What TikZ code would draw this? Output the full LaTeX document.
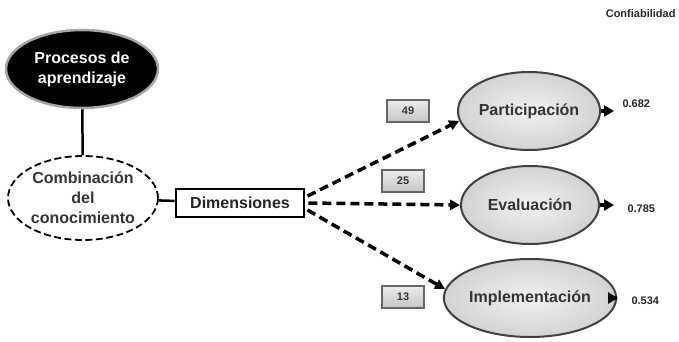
\documentclass[tikz,border=0pt]{standalone}
\usepackage{fontspec}
\setmainfont{Liberation Sans}
\usetikzlibrary{shapes.geometric,arrows.meta,calc}

\tikzset{
  big/.style={font=\bfseries\fontsize{16}{20}\selectfont, align=center},
  small/.style={font=\bfseries\fontsize{11}{13}\selectfont},
  rootnode/.style={big, ellipse, inner sep=0pt, fill=black, draw=gray!70,
    line width=2.5pt, text=white, minimum width=152pt, minimum height=78pt},
  latentnode/.style={big, ellipse, inner sep=0pt, draw=black, dashed,
    dash pattern=on 7pt off 3.5pt, line width=1.8pt, text=black!80,
    minimum width=150pt, minimum height=84pt},
  dimbox/.style={big, rectangle, draw=black, line width=2.8pt, fill=white,
    minimum width=128pt, minimum height=28pt, inner sep=0pt, text=black!85},
  factor/.style={big, ellipse, inner sep=0pt, draw=black!75, line width=2pt,
    inner color=gray!10, outer color=gray!35, text=black!80,
    minimum width=138pt, minimum height=78pt},
  countbox/.style={small, rectangle, draw=black!60, line width=1.6pt,
    top color=gray!15, bottom color=gray!45, text=black!80,
    minimum width=42pt, minimum height=22pt, inner sep=0pt},
  link/.style={line width=2.5pt, black},
  loading/.style={line width=3.5pt, black, dash pattern=on 9pt off 5pt,
    -{Triangle[length=10pt,width=10pt]}},
  reliab/.style={line width=3.5pt, black, -{Triangle[length=10pt,width=11pt]}},
  value/.style={small, anchor=west, text=black!85},
}

\begin{document}
\begin{tikzpicture}[x=1pt,y=-1pt]
  \useasboundingbox (0,0) rectangle (679,341);

  % main concepts
  \node[rootnode] (proc) at (82,69) {Procesos de\\aprendizaje};
  \node[latentnode] (comb) at (83,198) {Combinación\\del\\conocimiento};
  \node[dimbox] (dim) at (240,203) {Dimensiones};

  % factors
  \node[factor] (part) at (529,111) {Participación};
  \node[factor] (eval) at (530,205) {Evaluación};
  \node[factor] (impl) at (530,298) {Implementación};

  % item counts
  \node[countbox] (n49) at (408,111) {49};
  \node[countbox] (n25) at (403,181) {25};
  \node[countbox] (n13) at (403,297) {13};

  % structure links
  \draw[link] (proc) -- (comb);
  \draw[link] (comb) -- (dim);

  % loadings
  \draw[loading] ($(dim.east)+(2,-7)$) -- (part.188);
  \draw[loading] ($(dim.east)+(3,0)$) -- (eval.west);
  \draw[loading] ($(dim.east)+(2,7)$) -- (impl.174);

  % reliability
  \node[small, anchor=east, text=black!85] (conf) at (679,14) {Confiabilidad};
  \coordinate (pe) at (614,111);
  \coordinate (ee) at (614,205);
  \coordinate (ie) at (618,298);
  \draw[reliab] (part.east) -- (pe);
  \draw[reliab] (eval.east) -- (ee);
  \draw[reliab] (impl.east) -- (ie);
  \node[value] (v1) at (619,104) {0.682};
  \node[value] (v2) at (624,209) {0.785};
  \node[value] (v3) at (628,301) {0.534};
\end{tikzpicture}
\end{document}
